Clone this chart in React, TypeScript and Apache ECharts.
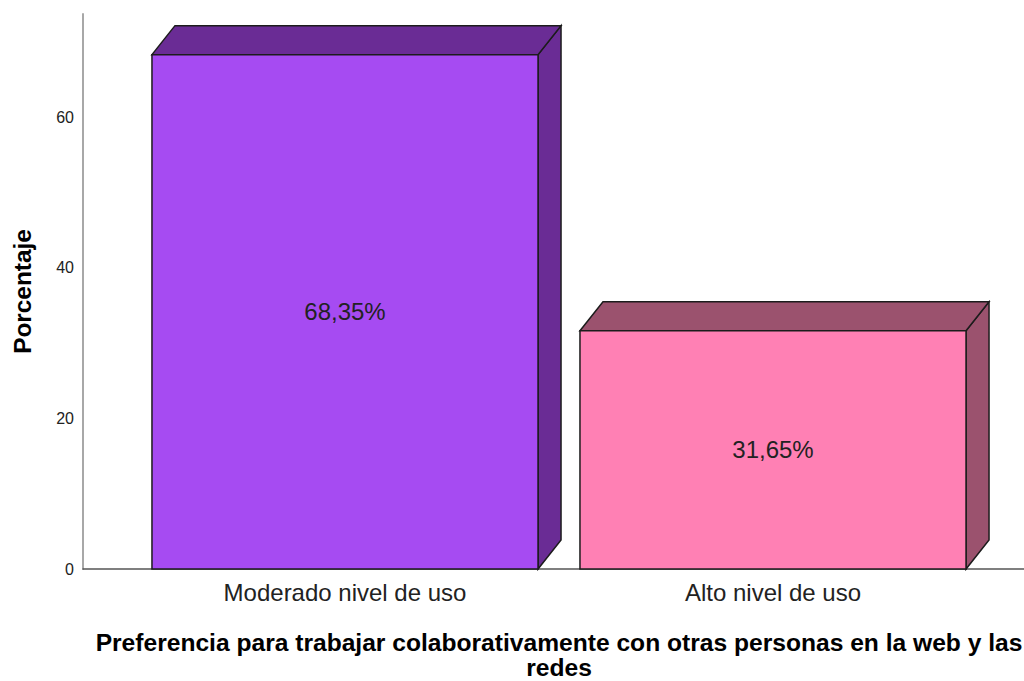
import React, { useEffect, useRef } from "react";
import * as echarts from "echarts";

const categories = ["Moderado nivel de uso", "Alto nivel de uso"];
const percentages = [68.35, 31.65];
const valueLabels = ["68,35%", "31,65%"];
const yTicks = [0, 20, 40, 60];
const frontColors = ["#a64bf2", "#ff80b4"];
const depthColors = ["#6a2c95", "#9b526e"];

const FONT = "'Liberation Sans', Arial, sans-serif";

export default function App() {
  const ref = useRef<HTMLDivElement>(null);
  useEffect(() => {
    if (!ref.current) return;
    const chart = echarts.init(ref.current, null, { renderer: "svg" });
    const DX = 23;
    const DY = 29;
    const option: any = {
      animation: false,
      backgroundColor: "#ffffff",
      textStyle: { fontFamily: FONT },
      grid: [
        { left: 131, width: 856, top: 14, bottom: 112, outerBoundsMode: "none", containLabel: false },
        { left: 83, right: 0, top: 14, bottom: 112, outerBoundsMode: "none", containLabel: false },
      ],
      xAxis: [
        {
          type: "category",
          gridIndex: 0,
          data: categories,
          axisLine: { show: false },
          axisTick: { show: false },
          axisLabel: { fontSize: 24, color: "#222", margin: 11, fontFamily: FONT },
          name: "Preferencia para trabajar colaborativamente con otras personas en la web y las\nredes",
          nameLocation: "middle",
          nameGap: 61,
          nameTextStyle: {
            fontSize: 24.6,
            fontWeight: "bold",
            color: "#000",
            lineHeight: 25,
            fontFamily: FONT,
          },
        },
        {
          type: "value",
          gridIndex: 1,
          min: 0,
          max: 1,
          axisLine: { show: true, lineStyle: { color: "#555", width: 1.5 } },
          axisTick: { show: false },
          axisLabel: { show: false },
          splitLine: { show: false },
        },
      ],
      yAxis: [
        {
          type: "value",
          gridIndex: 0,
          min: 0,
          max: 73.75,
          interval: 20,
          offset: 48,
          axisLine: { show: true, lineStyle: { color: "#a8a8a8", width: 2 } },
          axisTick: { show: false },
          splitLine: { show: false },
          axisLabel: {
            fontSize: 16,
            color: "#222",
            margin: 9,
            fontFamily: FONT,
            formatter: (v: number) => (yTicks.includes(v) ? String(v) : ""),
          },
          name: "Porcentaje",
          nameLocation: "middle",
          nameGap: 49,
          nameTextStyle: { fontSize: 24.4, fontWeight: "bold", color: "#000", fontFamily: FONT },
        },
        { type: "value", gridIndex: 1, show: false, min: 0, max: 1 },
      ],
      series: [
        {
          type: "custom",
          xAxisIndex: 0,
          yAxisIndex: 0,
          data: percentages.map((v, i) => [i, v]),
          encode: { x: 0, y: 1 },
          renderItem: (params: any, api: any) => {
            const idx = params.dataIndex;
            const cat = api.value(0);
            const val = api.value(1);
            const top = api.coord([cat, val]);
            const base = api.coord([cat, 0]);
            const band = api.size([1, 0])[0];
            const w = band * 0.902;
            const x0 = top[0] - w / 2;
            const x1 = x0 + w;
            const yT = top[1];
            const yB = base[1];
            const stroke = "#1c1c1c";
            return {
              type: "group",
              children: [
                {
                  type: "polygon",
                  shape: {
                    points: [
                      [x1, yT],
                      [x1 + DX, yT - DY],
                      [x1 + DX, yB - DY],
                      [x1, yB],
                    ],
                  },
                  style: { fill: depthColors[idx], stroke, lineWidth: 1.5 },
                },
                {
                  type: "polygon",
                  shape: {
                    points: [
                      [x0, yT],
                      [x0 + DX, yT - DY],
                      [x1 + DX, yT - DY],
                      [x1, yT],
                    ],
                  },
                  style: { fill: depthColors[idx], stroke, lineWidth: 1.5 },
                },
                {
                  type: "rect",
                  shape: { x: x0, y: yT, width: w, height: yB - yT },
                  style: { fill: frontColors[idx], stroke, lineWidth: 1.5 },
                },
                {
                  type: "text",
                  x: (x0 + x1) / 2,
                  y: (yT + yB) / 2,
                  style: {
                    text: valueLabels[idx],
                    fill: "#222",
                    font: `24px ${FONT}`,
                    align: "center",
                    verticalAlign: "middle",
                  },
                },
              ],
            };
          },
        },
      ],
    };
    chart.setOption(option);
    return () => chart.dispose();
  }, []);
  return (
    <div
      ref={ref}
      style={{ position: "fixed", left: 0, top: 0, width: 1024, height: 681, background: "#fff" }}
    />
  );
}
